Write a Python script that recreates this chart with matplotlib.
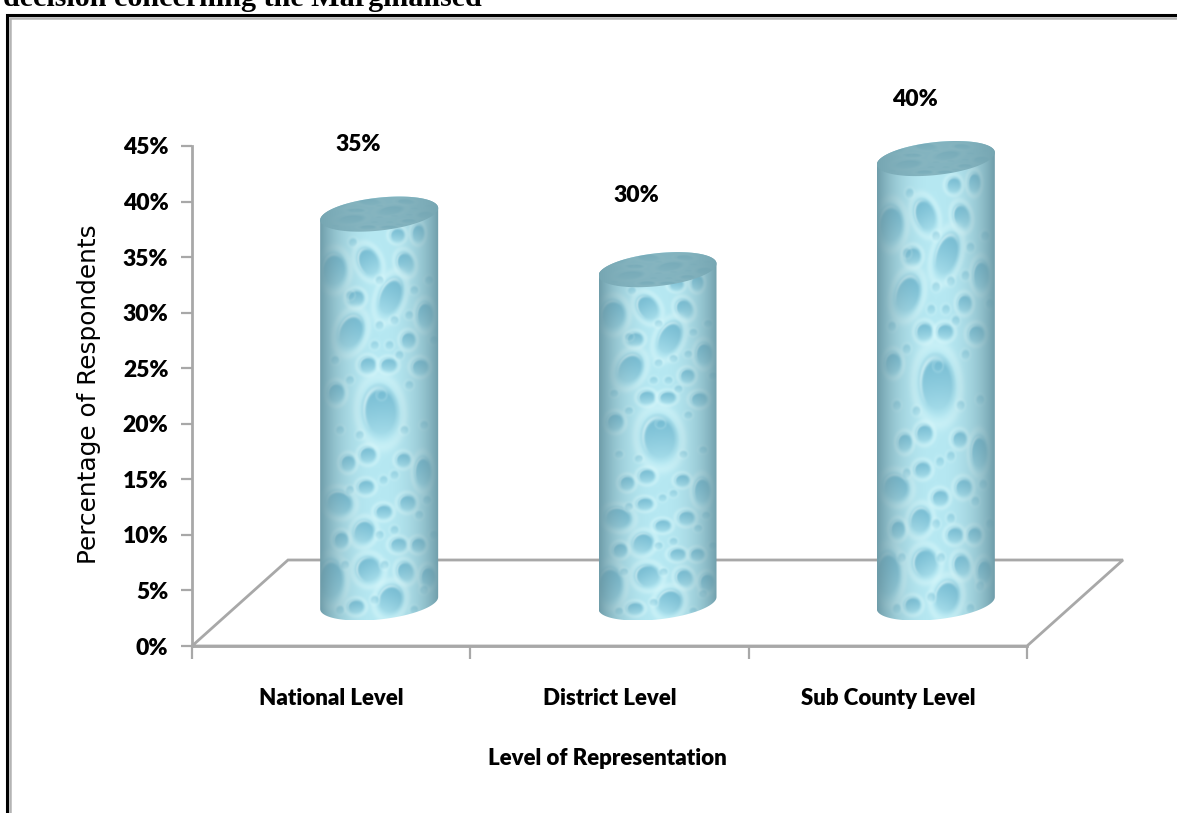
import numpy as np
import matplotlib
matplotlib.use("Agg")
import matplotlib.pyplot as plt
from matplotlib.patches import Polygon
from matplotlib.lines import Line2D

# Survey values
categories = ["National Level", "District Level", "Sub County Level"]
values = [35, 30, 40]
y_ticks = [0, 5, 10, 15, 20, 25, 30, 35, 40, 45]
y_tick_labels = ["0%", "5%", "10%", "15%", "20%", "25%", "30%", "35%", "40%", "45%"]

# Raised height of each value label above its column value
label_lift = [10.1, 10.5, 9.2]

# Water-drop texture: x, y, half width, half height, tilt (texture cells 120 x 430)
big_drops = [
    (14, 80, 12, 17, 0), (49, 72, 10, 15, -25), (86, 73, 8, 11, -20),
    (71, 107, 11, 20, 20), (36, 108, 8, 8, 0), (31, 142, 12, 18, 20),
    (106, 125, 8, 13, 0), (89, 150, 7, 8, 0), (48, 175, 8, 8, 0),
    (69, 175, 8, 7, 0), (101, 177, 8, 8, 0), (16, 203, 8, 10, 0),
    (61, 222, 17, 26, -5), (48, 265, 8, 8, 0), (28, 273, 7, 8, 0),
    (84, 270, 7, 7, 0), (104, 282, 8, 15, 0), (46, 297, 8, 7, 0),
    (19, 313, 13, 12, 25), (64, 322, 8, 7, 0), (88, 313, 8, 8, 0),
    (44, 342, 10, 12, 20), (21, 350, 7, 8, 0), (79, 355, 8, 7, 0),
    (99, 355, 7, 7, 0), (49, 380, 12, 13, -25), (86, 382, 8, 10, -20),
    (11, 390, 12, 20, 0), (71, 410, 12, 15, 20), (36, 417, 8, 7, 0),
    (109, 387, 7, 10, 0), (78, 45, 7, 7, 0), (99, 43, 6, 9, 0),
]
small_drops = [
    (33, 52), (30, 105), (60, 90), (75, 130), (95, 100), (110, 90), (60, 135),
    (70, 155), (80, 165), (90, 125), (55, 155), (15, 170), (115, 150), (30, 190),
    (90, 195), (62, 205), (20, 240), (105, 235), (40, 245), (85, 240), (64, 290),
    (75, 285), (108, 310), (30, 300), (100, 325), (60, 345), (75, 340), (115, 345),
    (65, 375), (25, 375), (105, 400), (55, 410), (20, 420), (95, 420),
]

W, H = 1177, 813
BOLD_FONT = "Lato"
GREY = "#a8a8a8"
PX_X = 835 / 3      # pixels per category
PX_Y = 500 / 45     # pixels per percentage point
DEPTH_X = 96 / PX_X
DEPTH_Y = 86 / PX_Y
HALF_W = 59 / PX_X
CAP_B = 16.5 / PX_Y
CAP_S = 6.0 / PX_Y


def mix(a, b, m):
    return a * (1 - m[..., None]) + np.array(b, float) / 255 * m[..., None]


def soften(img, passes=3):
    # small separable box filter, enough to melt the drop edges together
    out = img
    for _ in range(passes):
        out = (np.roll(out, 1, 0) + out + np.roll(out, -1, 0)) / 3
        out = (np.roll(out, 1, 1) + out + np.roll(out, -1, 1)) / 3
    return out


def drop_texture():
    ys, xs = np.mgrid[0:430:860j, 0:120:360j]
    img = np.empty(xs.shape + (3,))
    img[...] = np.array([182, 232, 242]) / 255
    drops = [(x, y, rx * 1.2, ry * 1.15, t, 1.0) for x, y, rx, ry, t in big_drops]
    drops += [(x, y, 4.6, 4.6, 0, 0.5) for x, y in small_drops]
    for x0, y0, rx, ry, tilt, strength in drops:
        a = np.radians(tilt)
        dx = (xs - x0) * np.cos(a) + (ys - y0) * np.sin(a)
        dy = -(xs - x0) * np.sin(a) + (ys - y0) * np.cos(a)
        r = np.hypot(dx / rx, dy / ry)
        # pale halo round the drop
        img = mix(img, (222, 250, 252), 0.42 * strength * np.exp(-((r - 1.18) / 0.2) ** 2))
        # body: deep blue at the top, melting into the surface at the bottom
        t = np.clip((dy / ry + 1) / 2, 0, 1)
        m = np.clip((1.0 - r) / 0.3, 0, 1) * (1 - 0.85 * t ** 1.3)
        img = mix(img, (112, 184, 208), 0.92 * strength * m)
        # thin highlight on the upper left
        glint = np.exp(-((r - 0.8) / 0.08) ** 2) * np.clip(-(dx / rx + dy / ry) * 0.8, 0, 1)
        img = mix(img, (226, 250, 252), 0.75 * strength * glint)
    img = soften(img)
    # rounded shading towards both sides of the column
    edge = np.abs(2 * xs / 120 - 1)
    img = mix(img, (104, 150, 163), 0.92 * edge ** 2.4)
    return np.clip(img, 0, 1)


def ellipse(cx, cy, t):
    return np.column_stack([cx + HALF_W * np.cos(t),
                            cy + CAP_B * np.sin(t) + CAP_S * np.cos(t)])


def draw_column(ax, texture, cap_texture, cx, value):
    base = DEPTH_Y / 2
    top = value + base
    lower = ellipse(cx, base, np.linspace(np.pi, 2 * np.pi, 80))
    upper = ellipse(cx, top, np.linspace(0, np.pi, 80))
    extent = (cx - HALF_W, cx + HALF_W, base - 17 / PX_Y, top + 24 / PX_Y)
    im = ax.imshow(texture, extent=extent, aspect="auto", origin="upper",
                   interpolation="bilinear", zorder=3)
    im.set_clip_path(Polygon(np.vstack([lower, upper]), closed=True, transform=ax.transData))
    im.set_clip_box(ax.figure.bbox)
    cap = ellipse(cx, top, np.linspace(0, 2 * np.pi, 160))
    cim = ax.imshow(cap_texture, extent=(cx - HALF_W, cx + HALF_W, top - 2.0, top + 2.0),
                    aspect="auto", origin="upper", interpolation="bilinear", zorder=4)
    cim.set_clip_path(Polygon(cap, closed=True, transform=ax.transData))
    cim.set_clip_box(ax.figure.bbox)


fig = plt.figure(figsize=(W / 100, H / 100), dpi=100, facecolor="white")

# Page layer in pixel units: cut-off heading and the double frame
page = fig.add_axes([0, 0, 1, 1])
page.set_xlim(0, W)
page.set_ylim(H, 0)
page.axis("off")
page.text(3, 6.5, "decision concerning the Marginalised", family="Liberation Serif",
          weight="bold", fontsize=21.7, va="baseline", ha="left", color="black")
page.add_line(Line2D([7, 7, W], [H, 15, 15], color="black", lw=2.2, solid_joinstyle="miter"))
page.add_line(Line2D([10, 10, W], [H, 18, 18], color="#b4b4b4", lw=1.8, solid_joinstyle="miter"))

ax = fig.add_axes([192 / W, 1 - 646 / H, 835 / W, 500 / H], facecolor="none")

# Floor of the pseudo 3-D plot
floor = Polygon([(0, 0), (DEPTH_X, DEPTH_Y), (3 + DEPTH_X, DEPTH_Y), (3, 0)], closed=True,
                fill=False, edgecolor=GREY, lw=2, clip_on=False, zorder=1, joinstyle="miter")
ax.add_patch(floor)

texture = drop_texture()
cap_tint = np.array([120, 168, 180]) / 255
cap_texture = 0.82 * cap_tint + 0.18 * texture[60:420]

for i, v in enumerate(values):
    draw_column(ax, texture, cap_texture, i + 0.5 + DEPTH_X / 2, v)
    ax.text(i + 0.597, v + label_lift[i], f"{v}%", family=BOLD_FONT, weight="heavy",
            fontsize=16.5, ha="center", va="center", color="black", clip_on=False)

ax.set_xlim(0, 3)
ax.set_ylim(0, 45)
for side in ("top", "right"):
    ax.spines[side].set_visible(False)
for side in ("left", "bottom"):
    ax.spines[side].set_color(GREY)
    ax.spines[side].set_linewidth(2)

ax.set_yticks(y_ticks)
ax.set_yticklabels(y_tick_labels, family=BOLD_FONT, weight="heavy", fontsize=16.5)
ax.tick_params(axis="y", length=8, width=1.6, color=GREY, pad=9)
ax.set_xticks([0, 1, 2, 3])
ax.set_xticklabels([])
ax.tick_params(axis="x", which="major", length=9, width=1.6, color=GREY)
ax.set_xticks([0.5, 1.5, 2.5], minor=True)
ax.set_xticklabels(categories, minor=True, family=BOLD_FONT, weight="heavy", fontsize=16)
ax.tick_params(axis="x", which="minor", length=0, pad=30)

ax.set_ylabel("Percentage of Respondents", family="DejaVu Sans", fontsize=17.8,
              labelpad=0, color="black")
ax.yaxis.set_label_coords((101 - 192) / 835, (646 - 394) / 500)
ax.set_xlabel("Level of Representation", family=BOLD_FONT, weight="heavy", fontsize=16)
ax.xaxis.set_label_coords((607 - 192) / 835, -(758 - 646) / 500)
ax.xaxis.label.set_va("center")

fig.savefig("out.png", dpi=100, facecolor="white")
